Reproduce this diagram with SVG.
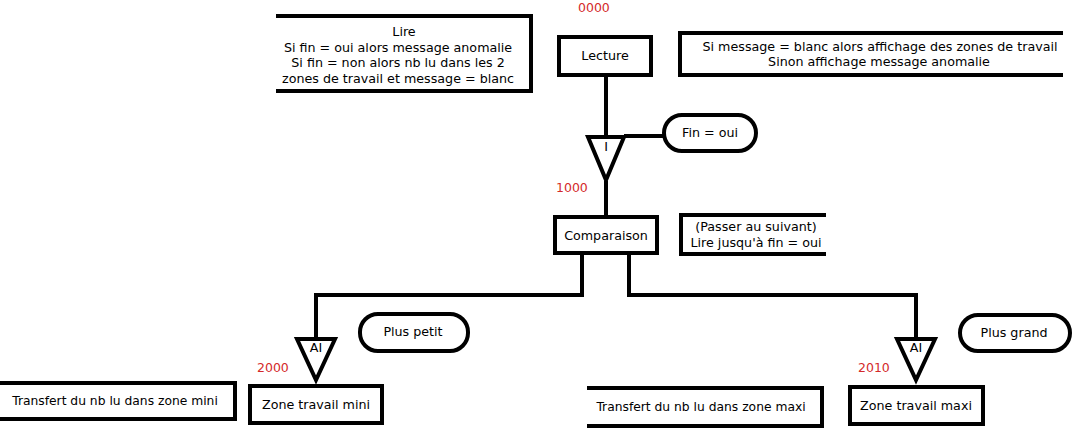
<svg xmlns="http://www.w3.org/2000/svg" width="1075" height="431" viewBox="0 0 1075 431">
<style>
.box{fill:#fff;stroke:#000;stroke-width:4}
.ann{fill:none;stroke:#000;stroke-width:4}
.ln{fill:none;stroke:#000;stroke-width:4}
text{font-family:"DejaVu Sans",sans-serif;font-size:12.7px;fill:#000;text-anchor:middle}
.red{fill:#d42a2a;text-anchor:start;font-size:12.5px}
.tr{font-size:12.3px}
</style>
<rect width="1075" height="431" fill="#fff"/>
<g id="connectors">
<path class="ln" d="M606,77 V137"/>
<path class="ln" d="M606,181 V217"/>
<path class="ln" d="M624,136 H664"/>
<path class="ln" d="M582,255 V295 H316 V339"/>
<path class="ln" d="M629,255 V295 H916 V339"/>
</g>
<g id="note-lire">
<path class="ann" d="M276,16 H531 V91 H276"/>
<text x="404" y="36">Lire</text>
<text x="398" y="52">Si fin = oui alors message anomalie</text>
<text x="398" y="67">Si fin = non alors nb lu dans les 2</text>
<text x="398" y="83">zones de travail et message = blanc</text>
</g>
<g id="note-affichage">
<path class="ann" d="M1063,33 H680 V75 H1063"/>
<text x="880" y="51">Si message = blanc alors affichage des zones de travail</text>
<text x="879" y="66">Sinon affichage message anomalie</text>
</g>
<g id="lecture">
<rect class="box" x="559" y="37" width="92" height="38"/>
<text x="605" y="60">Lecture</text>
</g>
<text class="red" x="578" y="12">0000</text>
<g id="iteration">
<polygon class="box" points="588,137 624,137 606,180"/>
<text x="606" y="151">I</text>
</g>
<g id="fin-oui">
<rect class="box" x="664" y="115" width="92" height="36" rx="18"/>
<text x="710" y="137">Fin = oui</text>
</g>
<text class="red" x="556" y="192">1000</text>
<g id="comparaison">
<rect class="box" x="555" y="217" width="102" height="36"/>
<text x="606" y="240">Comparaison</text>
</g>
<g id="note-suivant">
<path class="ann" d="M826,215 H681 V254 H826"/>
<text x="756" y="231">(Passer au suivant)</text>
<text x="756" y="247">Lire jusqu'à fin = oui</text>
</g>
<g id="alt-mini">
<polygon class="box" points="297,339 335,339 316,380"/>
<text x="316" y="352">AI</text>
</g>
<g id="plus-petit">
<rect class="box" x="360" y="314" width="108" height="37" rx="18"/>
<text x="413" y="336">Plus petit</text>
</g>
<text class="red" x="257" y="372">2000</text>
<g id="zone-mini">
<rect class="box" x="250" y="386" width="132" height="37"/>
<text x="316" y="409">Zone travail mini</text>
</g>
<g id="note-mini">
<path class="ann" d="M0,383 H235 V419 H0"/>
<text class="tr" x="115" y="405">Transfert du nb lu dans zone mini</text>
</g>
<g id="alt-maxi">
<polygon class="box" points="897,339 935,339 916,380"/>
<text x="916" y="352">AI</text>
</g>
<g id="plus-grand">
<rect class="box" x="960" y="315" width="110" height="36" rx="18"/>
<text x="1014" y="337">Plus grand</text>
</g>
<text class="red" x="858" y="372">2010</text>
<g id="zone-maxi">
<rect class="box" x="850" y="387" width="133" height="37"/>
<text x="916" y="410">Zone travail maxi</text>
</g>
<g id="note-maxi">
<path class="ann" d="M587,388 H822 V426 H587"/>
<text class="tr" x="701" y="411">Transfert du nb lu dans zone maxi</text>
</g>
</svg>
